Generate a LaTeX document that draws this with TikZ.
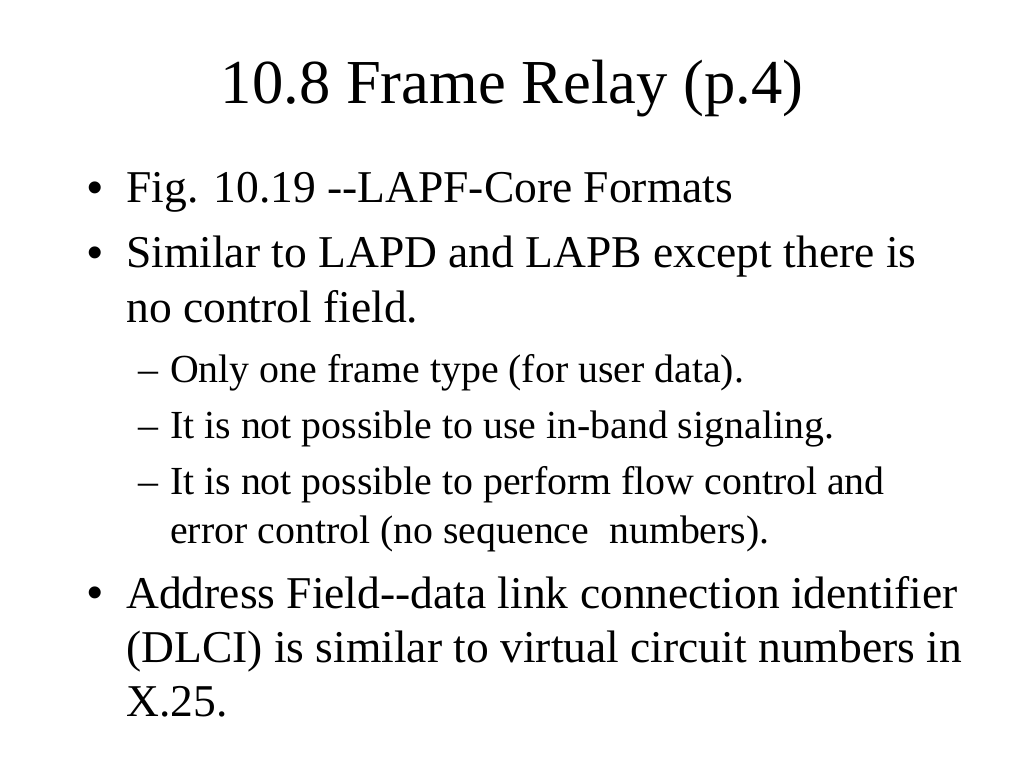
\documentclass[tikz,border=0pt]{standalone}
\usepackage{fontspec}
\setmainfont{Liberation Serif}
\newfontfamily\bulletfont{Liberation Sans}
\begin{document}
\begin{tikzpicture}[x=1pt,y=-1pt]
\tikzset{
  ttl/.style={inner sep=0pt,anchor=base,font=\fontsize{44}{52}\selectfont},
  lvone/.style={inner sep=0pt,anchor=base west,font=\fontsize{32}{38}\selectfont},
  lvtwo/.style={inner sep=0pt,anchor=base west,font=\fontsize{28}{34}\selectfont},
  bul/.style={inner sep=0pt,anchor=base,font=\bulletfont\fontsize{31}{36}\selectfont}
}
\fill[white] (0,0) rectangle (720,540);
\useasboundingbox (0,0) rectangle (720,540);
\node[ttl] (title) at (360,73.1) {10.8 Frame Relay (p.4)};
% bullet 1
\node[bul] (b1) at (66.8,142.5) {•};
\node[lvone] (t1) at (88.6,142.7) {Fig. 10.19 -{}-LAPF-Core Formats};
% bullet 2
\node[bul] (b2) at (66.8,188.2) {•};
\node[lvone] (t2a) at (88.6,188.4) {Similar to LAPD and LAPB except there is};
\node[lvone] (t2b) at (88.6,227.1) {no control field.};
% sub bullets
\node[lvtwo] (d1) at (97.0,268.6) {–};
\node[lvtwo] (s1) at (119.5,268.6) {Only one frame type (for user data).};
\node[lvtwo] (d2) at (97.0,308.0) {–};
\node[lvtwo] (s2) at (119.5,308.0) {It is not possible to use in-band signaling.};
\node[lvtwo] (d3) at (97.0,348.0) {–};
\node[lvtwo] (s3a) at (119.5,348.0) {It is not possible to perform flow control and};
\node[lvtwo] (s3b) at (119.5,381.8) {error control (no sequence\ \ numbers).};
% bullet 3
\node[bul] (b3) at (66.8,427.3) {•};
\node[lvone] (t3a) at (88.6,427.5) {Address Field-{}-data link connection identifier};
\node[lvone] (t3b) at (88.6,465.5) {(DLCI) is similar to virtual circuit numbers in};
\node[lvone] (t3c) at (88.6,504.1) {X.25.};
\end{tikzpicture}
\end{document}
